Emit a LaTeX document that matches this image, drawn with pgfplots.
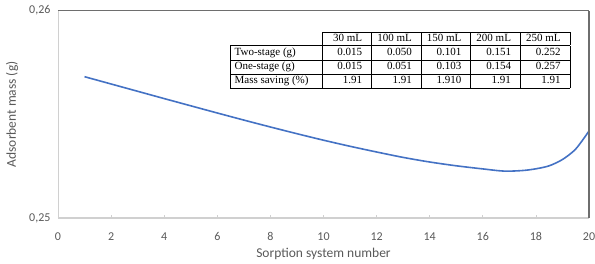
\documentclass[border=0pt]{standalone}
\usepackage{pgfplots}
\pgfplotsset{compat=1.18}
\usepackage{array}
\usepackage{fontspec}
\setmainfont{Carlito}
\newfontfamily\tabfont{Liberation Serif}
\definecolor{txtgray}{HTML}{595959}
\definecolor{lineblue}{HTML}{4472C4}
\definecolor{axlight}{HTML}{D0D0D0}
\definecolor{axdark}{HTML}{6E6E6E}
\begin{document}
\begin{tikzpicture}
\begin{axis}[
  at={(0pt,0pt)}, anchor=south west,
  scale only axis, width=531pt, height=207.3pt,
  xmin=0, xmax=20, ymin=0.25, ymax=0.26,
  xtick={0,2,...,20}, ytick={0.25,0.26},
  xtick pos=bottom, ytick pos=left,
  tick align=inside,
  major tick length=3pt,
  x tick style={draw=axlight, line width=0.8pt},
  y tick style={draw=none},
  axis line style={draw=none},
  /pgf/number format/assume math mode=true,
  ticklabel style={font=\fontsize{12}{14}\selectfont, text=txtgray},
  yticklabel style={/pgf/number format/use comma, /pgf/number format/fixed, /pgf/number format/fixed zerofill, /pgf/number format/precision=2, xshift=-4pt},
  xticklabel style={yshift=-11pt},
  scaled y ticks=false,
  xlabel={Sorption system number},
  ylabel={Adsorbent mass (g)},
  label style={font=\fontsize{13.5}{15}\selectfont, text=txtgray},
  xlabel style={at={(axis description cs:0.5,0)}, anchor=center, yshift=-36pt},
  ylabel style={at={(axis description cs:0,0.5)}, anchor=center, yshift=46pt},
  clip=false,
]
\addplot[lineblue, line width=1.6pt, smooth] coordinates {
(1,0.256816) (2,0.256464) (3,0.256112) (4,0.255760) (5,0.255412)
(6,0.255065) (7,0.254723) (8,0.254390) (9,0.254066) (10,0.253753)
(11,0.253459) (12,0.253184) (13,0.252923) (14,0.252701) (15,0.252518)
(16,0.252368) (16.8,0.252262) (17.5,0.252290) (18,0.252373) (18.5,0.252518)
(19,0.252822) (19.5,0.253328) (20,0.254197)
};
\draw[axlight, line width=0.9pt] (rel axis cs:0,0) -- (rel axis cs:0,1);
\draw[axlight, line width=1.2pt] (rel axis cs:0,0) -- (rel axis cs:1,0);
\draw[axdark, line width=1.2pt] (rel axis cs:0,1) -- (rel axis cs:1,1);
\draw[axdark, line width=2.2pt] (rel axis cs:1,0) -- (rel axis cs:1,1);
\end{axis}
\node[anchor=north west, inner sep=0pt, outer sep=0pt] at (172pt,186pt) {%
  \tabfont\fontsize{11}{13.5}\selectfont
  \setlength{\tabcolsep}{0pt}%
  \setlength{\arrayrulewidth}{0.6pt}%
  \begin{tabular}{|@{\hspace{4pt}}p{87pt}|*{5}{>{\raggedleft\arraybackslash}p{40pt}@{\hspace{9pt}}|}}
  \cline{2-6}
  \multicolumn{1}{@{}c|}{} & 30 mL & 100 mL & 150 mL & 200 mL & 250 mL\\ \hline
  Two-stage (g) & 0.015 & 0.050 & 0.101 & 0.151 & 0.252\\ \hline
  One-stage (g) & 0.015 & 0.051 & 0.103 & 0.154 & 0.257\\ \hline
  Mass saving (\%) & 1.91 & 1.91 & 1.910 & 1.91 & 1.91\\ \hline
  \end{tabular}};
\pgfresetboundingbox
\path[use as bounding box] (-58pt,-46pt) rectangle (537pt,218pt);
\end{tikzpicture}
\end{document}
